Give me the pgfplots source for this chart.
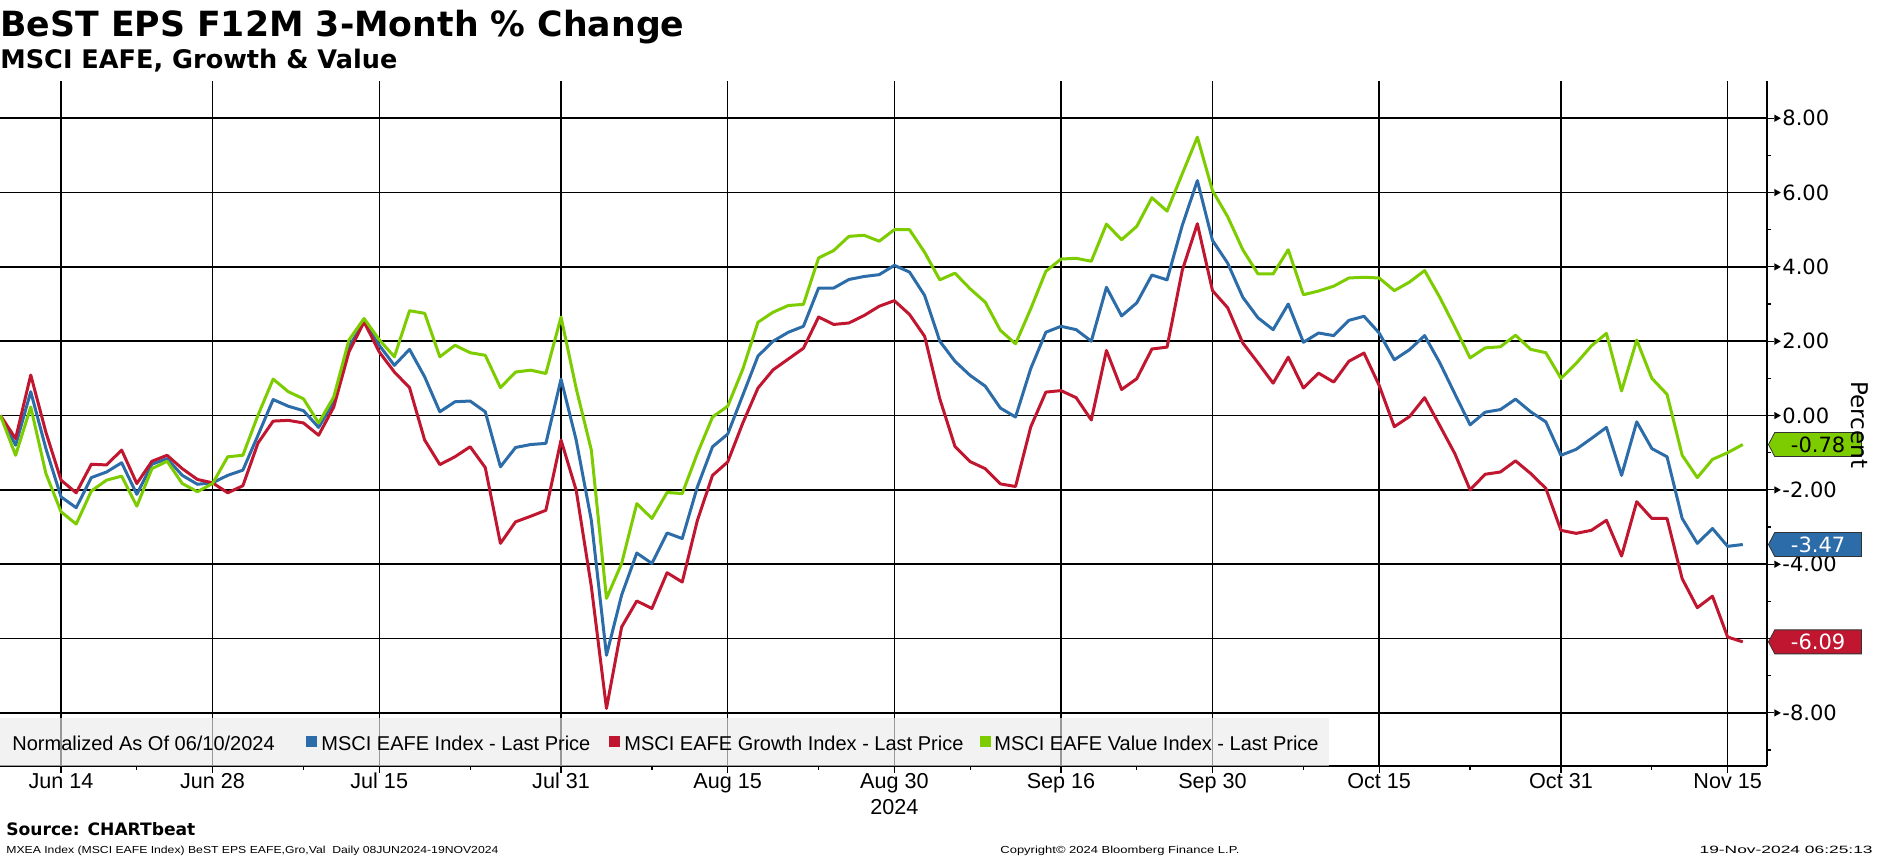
\documentclass[border=0pt]{standalone}
\usepackage{fontspec}
\setmainfont{Liberation Sans}
\newfontfamily\dejavu{DejaVu Sans}
\usepackage{graphicx}
\usepackage{pgfplots}
\pgfplotsset{compat=1.18}
\usepackage{pgfplotstable}
\usetikzlibrary{shapes.symbols}

\definecolor{cblue}{RGB}{44,108,168}
\definecolor{cred}{RGB}{192,22,48}
\definecolor{cgreen}{RGB}{125,204,0}
\definecolor{legbg}{RGB}{235,235,235}

\newcommand{\tri}{\tikz[baseline={(0,-3.8pt)}]\fill (0,1.8pt)--(3.2pt,0)--(0,-1.8pt)--cycle;\hspace{0.8pt}}

\pgfplotstableread{
i b r g
0 0 0 0
1 -0.80 -0.62 -1.07
2 0.64 1.09 0.23
3 -0.89 -0.45 -1.56
4 -2.19 -1.74 -2.59
5 -2.48 -2.08 -2.92
6 -1.67 -1.31 -2.03
7 -1.52 -1.33 -1.74
8 -1.27 -0.93 -1.63
9 -2.12 -1.83 -2.44
10 -1.31 -1.23 -1.43
11 -1.16 -1.07 -1.23
12 -1.61 -1.43 -1.83
13 -1.85 -1.72 -2.05
14 -1.81 -1.81 -1.83
15 -1.61 -2.08 -1.11
16 -1.47 -1.89 -1.07
17 -0.53 -0.74 0.01
18 0.43 -0.15 0.98
19 0.25 -0.13 0.64
20 0.13 -0.20 0.45
21 -0.32 -0.53 -0.20
22 0.37 0.23 0.50
23 1.85 1.71 2.03
24 2.52 2.52 2.61
25 1.89 1.71 2.04
26 1.35 1.17 1.58
27 1.78 0.75 2.82
28 1.04 -0.66 2.75
29 0.10 -1.32 1.58
30 0.37 -1.11 1.89
31 0.39 -0.84 1.69
32 0.10 -1.40 1.62
33 -1.38 -3.44 0.75
34 -0.86 -2.86 1.17
35 -0.78 -2.71 1.22
36 -0.75 -2.55 1.13
37 0.98 -0.66 2.65
38 -0.66 -2.01 0.73
39 -2.82 -4.60 -0.93
40 -6.45 -7.88 -4.92
41 -4.83 -5.69 -3.98
42 -3.70 -4.99 -2.37
43 -3.98 -5.19 -2.77
44 -3.16 -4.23 -2.07
45 -3.31 -4.48 -2.10
46 -1.92 -2.82 -1.02
47 -0.84 -1.61 -0.04
48 -0.50 -1.25 0.25
49 0.55 -0.20 1.25
50 1.60 0.74 2.51
51 2.00 1.23 2.78
52 2.24 1.52 2.96
53 2.40 1.81 2.99
54 3.43 2.65 4.24
55 3.43 2.45 4.44
56 3.66 2.49 4.82
57 3.74 2.69 4.85
58 3.79 2.94 4.69
59 4.04 3.09 5.00
60 3.86 2.72 5.00
61 3.23 2.13 4.39
62 2.00 0.45 3.65
63 1.46 -0.83 3.83
64 1.08 -1.24 3.41
65 0.79 -1.43 3.05
66 0.20 -1.84 2.29
67 -0.04 -1.91 1.93
68 1.26 -0.31 2.87
69 2.24 0.63 3.88
70 2.40 0.67 4.21
71 2.31 0.48 4.23
72 2.00 -0.12 4.15
73 3.45 1.75 5.15
74 2.68 0.70 4.73
75 3.03 0.99 5.09
76 3.78 1.79 5.86
77 3.65 1.84 5.50
78 5.11 3.90 6.50
79 6.32 5.16 7.49
80 4.71 3.36 6.05
81 4.10 2.90 5.35
82 3.18 1.95 4.46
83 2.63 1.42 3.81
84 2.31 0.87 3.81
85 3.00 1.57 4.46
86 1.97 0.74 3.25
87 2.22 1.14 3.35
88 2.15 0.90 3.48
89 2.56 1.46 3.70
90 2.67 1.68 3.72
91 2.22 0.81 3.70
92 1.50 -0.30 3.36
93 1.77 -0.03 3.59
94 2.15 0.48 3.90
95 1.42 -0.27 3.18
96 0.58 -1.03 2.38
97 -0.25 -2.00 1.55
98 0.09 -1.58 1.82
99 0.16 -1.52 1.85
100 0.44 -1.22 2.16
101 0.10 -1.56 1.78
102 -0.17 -1.96 1.69
103 -1.07 -3.09 1.00
104 -0.91 -3.17 1.40
105 -0.62 -3.09 1.87
106 -0.32 -2.82 2.21
107 -1.61 -3.78 0.66
108 -0.17 -2.32 2.03
109 -0.89 -2.77 1.00
110 -1.11 -2.77 0.57
111 -2.77 -4.39 -1.07
112 -3.44 -5.17 -1.67
113 -3.04 -4.86 -1.18
114 -3.52 -5.96 -1.00
115 -3.47 -6.09 -0.78
}\data

\begin{document}
\begin{tikzpicture}
\path[use as bounding box] (0pt,-46.5pt) rectangle (938.5pt,383pt);
\begin{axis}[
  at={(0pt,0pt)}, anchor=south west,
  scale only axis, width=883.5pt, height=342.3pt,
  xmin=-0.03, xmax=116.6, ymin=-9.43, ymax=8.99,
  axis x line*=bottom, axis y line*=right,
  axis line style={line width=1pt, black},
  clip=false,
  xtick={4,14,25,37,48,59,70,80,91,103,114},
  xticklabels={Jun 14,Jun 28,Jul 15,Jul 31,Aug 15,Aug 30,Sep 16,Sep 30,Oct 15,Oct 31,Nov 15},
  minor xtick={9,20,31,43,54,64,75,86,97,109},
  ytick={-8,-6,-4,-2,0,2,4,6,8},
  yticklabels={\tri-8.00,\tri-6.00,\tri-4.00,\tri-2.00,\tri0.00,\tri2.00,\tri4.00,\tri6.00,\tri8.00},
  minor ytick={-9,-7,-5,-3,-1,1,3,5,7},
  tick align=outside,
  major tick length=3.5pt,
  minor tick length=2pt,
  tick style={black, line width=0.6pt},
  xmajorgrids, ymajorgrids,
  grid style={black, line width=0.7pt},
  xticklabel style={font=\fontsize{10.8}{12}\selectfont, anchor=base, inner sep=0pt, yshift=-7.5pt},
  yticklabel style={font=\dejavu\fontsize{10.5}{12}\selectfont, anchor=west, inner sep=0pt},
]
\addplot[cblue, line width=1.5pt, line join=round] table[x=i,y=b]{\data};
\addplot[cred, line width=1.5pt, line join=round] table[x=i,y=r]{\data};
\addplot[cgreen, line width=1.5pt, line join=round] table[x=i,y=g]{\data};

\tikzset{tag/.style={signal, signal to=west, signal pointer angle=125, draw=black!80, line width=0.4pt,
  minimum width=46.5pt, minimum height=12pt, inner sep=0.5pt, anchor=west,
  font=\dejavu\fontsize{10.5}{12}\selectfont}}
\node[tag, fill=cgreen, text=black] at ([xshift=0.5pt]axis cs:116.6,-0.78) {-0.78};
\node[tag, fill=cblue, text=white] at ([xshift=0.5pt]axis cs:116.6,-3.47) {-3.47};
\node[tag, fill=cred, text=white] at ([xshift=0.5pt]axis cs:116.6,-6.09) {-6.09};
\node[anchor=base, inner sep=0pt, font=\fontsize{10.8}{12}\selectfont] at ([yshift=-24pt]axis cs:59,-9.43) {2024};
\end{axis}

% legend box
\fill[legbg, fill opacity=0.65] (0pt,0pt) rectangle (664.5pt,24pt);
\begin{scope}[every node/.style={anchor=base west, inner sep=0pt, font=\fontsize{10}{12}\selectfont}]
\node at (6pt,8pt) {Normalized As Of 06/10/2024};
\fill[cblue] (153pt,9.5pt) rectangle (158.5pt,15pt);
\node at (160.5pt,8pt) {MSCI EAFE Index - Last Price};
\fill[cred] (304.5pt,9.5pt) rectangle (310pt,15pt);
\node at (312pt,8pt) {MSCI EAFE Growth Index - Last Price};
\fill[cgreen] (490pt,9.5pt) rectangle (495.5pt,15pt);
\node at (497pt,8pt) {MSCI EAFE Value Index - Last Price};
\end{scope}

% titles
\node[anchor=base west, inner sep=0pt] at (0pt,364.5pt) {\resizebox{342pt}{!}{\dejavu\bfseries BeST EPS F12M 3-Month \% Change}};
\node[anchor=base west, inner sep=0pt] at (0pt,349pt) {\resizebox{198.5pt}{!}{\dejavu\bfseries MSCI EAFE, Growth \& Value}};

% axis title
\node[rotate=-90, inner sep=0pt, font=\dejavu\fontsize{11.5}{13}\selectfont] at (930pt,170.5pt) {Percent};

% footer
\node[anchor=base west, inner sep=0pt] at (3pt,-34.5pt) {\resizebox{94.5pt}{!}{\dejavu\bfseries Source: CHARTbeat}};
\node[anchor=base west, inner sep=0pt] at (3pt,-43.5pt) {\resizebox{246pt}{3.7pt}{MXEA Index (MSCI EAFE Index) BeST EPS EAFE,Gro,Val\ \ Daily 08JUN2024-19NOV2024}};
\node[anchor=base west, inner sep=0pt] at (500pt,-43.5pt) {\resizebox{119.5pt}{3.7pt}{Copyright© 2024 Bloomberg Finance L.P.}};
\node[anchor=base east, inner sep=0pt] at (936.5pt,-43.5pt) {\resizebox{86.5pt}{3.7pt}{19-Nov-2024 06:25:13}};
\end{tikzpicture}
\end{document}
